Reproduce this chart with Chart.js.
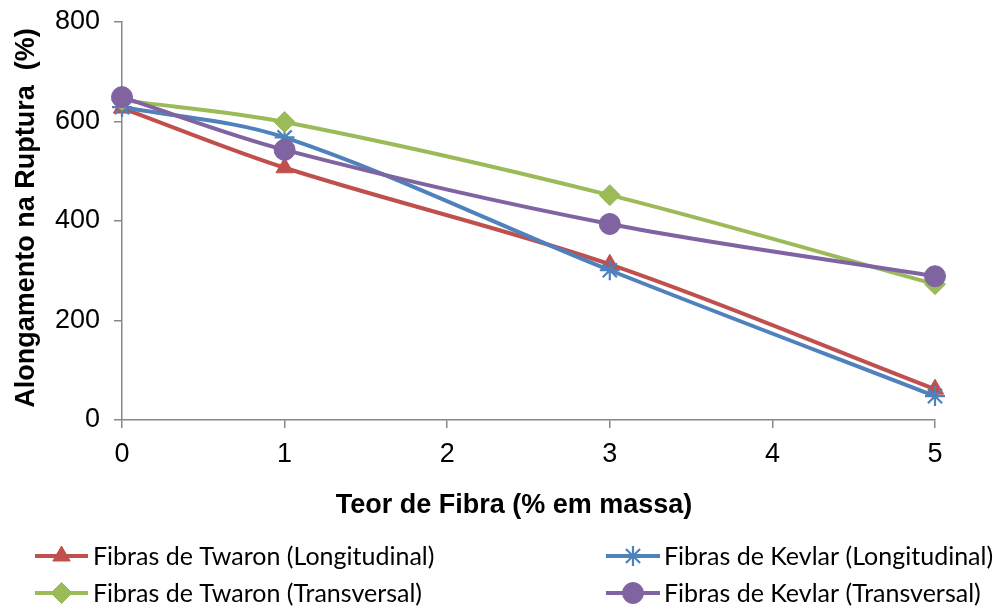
<!DOCTYPE html>
<html>
<head>
<meta charset="utf-8">
<script src="https://cdn.jsdelivr.net/npm/chart.js@4.4.0/dist/chart.umd.min.js"></script>
<style>
html,body{margin:0;padding:0;background:#fff;}
#wrap{width:993px;height:610px;position:relative;}
</style>
</head>
<body>
<div id="wrap"><canvas id="c" width="993" height="610"></canvas></div>
<script>
const xValues = [0, 1, 3, 5];
const twaronLong = [627, 507, 313, 62];
const kevlarLong = [629, 568, 301, 48];
const twaronTrans = [643, 599, 452, 273];
const kevlarTrans = [649, 543, 394, 289];
const seriesNames = [
  'Fibras de Twaron (Longitudinal)',
  'Fibras de Kevlar (Longitudinal)',
  'Fibras de Twaron (Transversal)',
  'Fibras de Kevlar (Transversal)'
];
const xTicks = [0, 1, 2, 3, 4, 5];
const yTicks = [0, 200, 400, 600, 800];
const xTitle = 'Teor de Fibra (% em massa)';
const yTitle = 'Alongamento na Ruptura  (%)';

const colors = ['#C0504D', '#4F81BD', '#9BBB59', '#8064A2'];
const styles = [
  {pointStyle: 'triangle', radius: 10, borderWidth: 1},
  {pointStyle: 'star', radius: 10, borderWidth: 2.2},
  {pointStyle: 'rectRot', radius: 10.5, borderWidth: 1},
  {pointStyle: 'circle', radius: 10.5, borderWidth: 1}
];
const allSeries = [twaronLong, kevlarLong, twaronTrans, kevlarTrans];
const drawOrder = [3, 2, 1, 0];

const datasets = allSeries.map((vals, i) => ({
  label: seriesNames[i],
  data: vals.map((v, j) => ({x: xValues[j], y: v})),
  borderColor: colors[i],
  backgroundColor: colors[i],
  pointBackgroundColor: colors[i],
  pointBorderColor: colors[i],
  pointStyle: styles[i].pointStyle,
  pointRadius: styles[i].radius,
  pointHoverRadius: styles[i].radius,
  pointBorderWidth: styles[i].borderWidth,
  borderWidth: 4,
  tension: 0.33,
  fill: false,
  order: drawOrder[i],
  clip: false
}));

const extras = {
  id: 'extras',
  afterDraw(chart) {
    const ctx = chart.ctx;
    ctx.save();
    ctx.fillStyle = '#000';
    ctx.font = 'bold 27px "Liberation Sans", Arial, sans-serif';
    ctx.textAlign = 'center';
    ctx.textBaseline = 'alphabetic';
    ctx.fillText(xTitle, 514, 513);
    ctx.save();
    ctx.translate(34, 218);
    ctx.rotate(-Math.PI / 2);
    ctx.fillText(yTitle, 0, 0);
    ctx.restore();

    // legend
    const cols = [{x0: 35, x1: 88, tx: 93}, {x0: 606, x1: 660, tx: 664}];
    const rows = [556, 593];
    ctx.font = '25px Lato, "Open Sans", sans-serif';
    ctx.textAlign = 'left';
    ctx.textBaseline = 'middle';
    seriesNames.forEach((name, i) => {
      const c = cols[i % 2];
      const y = rows[Math.floor(i / 2)];
      ctx.strokeStyle = colors[i];
      ctx.fillStyle = colors[i];
      ctx.lineWidth = 4;
      ctx.beginPath();
      ctx.moveTo(c.x0, y);
      ctx.lineTo(c.x1, y);
      ctx.stroke();
      ctx.lineWidth = styles[i].borderWidth;
      Chart.helpers.drawPoint(ctx, {
        pointStyle: styles[i].pointStyle,
        radius: styles[i].radius,
        rotation: 0,
        borderWidth: styles[i].borderWidth
      }, (c.x0 + c.x1) / 2, y);
      ctx.fillStyle = '#000';
      ctx.fillText(name, c.tx, y + 1);
    });
    ctx.restore();
  }
};

new Chart(document.getElementById('c'), {
  type: 'line',
  data: {datasets},
  options: {
    responsive: false,
    animation: false,
    events: [],
    layout: {padding: {top: 22, right: 58, bottom: 0, left: 0}},
    plugins: {legend: {display: false}, tooltip: {enabled: false}},
    scales: {
      x: {
        type: 'linear',
        min: 0, max: 5,
        afterBuildTicks(scale) { scale.ticks = xTicks.map(v => ({value: v})); },
        afterFit(scale) { scale.height = 190; scale.paddingLeft = 0; scale.paddingRight = 0; },
        grid: {drawOnChartArea: false, color: '#888', tickLength: 8, lineWidth: 1.5},
        border: {color: '#888', width: 1.5},
        ticks: {color: '#000', font: {family: '"Liberation Sans", Arial, sans-serif', size: 27}, padding: 10, maxRotation: 0}
      },
      y: {
        min: 0, max: 800,
        afterBuildTicks(scale) { scale.ticks = yTicks.map(v => ({value: v})); },
        afterFit(scale) { scale.width = 122; scale.paddingTop = 0; scale.paddingBottom = 0; },
        grid: {drawOnChartArea: false, color: '#888', tickLength: 8, lineWidth: 1.5},
        border: {color: '#888', width: 1.5},
        ticks: {color: '#000', font: {family: '"Liberation Sans", Arial, sans-serif', size: 27}, padding: 14}
      }
    }
  },
  plugins: [extras]
});
</script>
</body>
</html>
